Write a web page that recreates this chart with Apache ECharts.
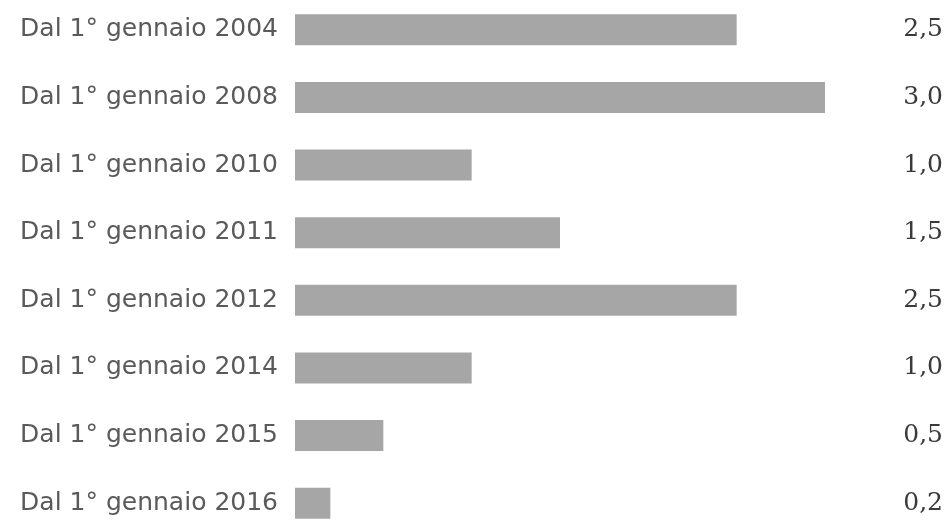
<!DOCTYPE html>
<html>
<head>
<meta charset="utf-8">
<script src="https://cdn.jsdelivr.net/npm/echarts@6/dist/echarts.min.js"></script>
<style>
  html, body { margin: 0; padding: 0; background: #fff; overflow: hidden; }
  /* la prima riga parte un po' sopra il bordo */
  #chart { position: absolute; left: 0; top: -4px; width: 948px; height: 545px; }
</style>
</head>
<body>
<div id="chart"></div>
<script>
// categorie (dall'alto in basso)
var categories = ['Dal 1° gennaio 2004', 'Dal 1° gennaio 2008', 'Dal 1° gennaio 2010', 'Dal 1° gennaio 2011',
                  'Dal 1° gennaio 2012', 'Dal 1° gennaio 2014', 'Dal 1° gennaio 2015', 'Dal 1° gennaio 2016'];
var values = [2.5, 3.0, 1.0, 1.5, 2.5, 1.0, 0.5, 0.2];

// etichette a destra, formato italiano
var valueLabels = values.map(function (v) {
    return v.toFixed(1).replace('.', ',');
});

var chart = echarts.init(document.getElementById('chart'));

var option = {
    backgroundColor: '#fff',
    animation: false,
    grid: { left: 295, right: 123, top: 0, height: 541, containLabel: false },
    xAxis: {
        type: 'value',
        min: 0,
        max: 3,
        show: false
    },
    yAxis: [{
        type: 'category',
        data: categories,
        inverse: true,
        axisLine: { show: false },
        axisTick: { show: false },
        axisLabel: {
            fontFamily: 'DejaVu Sans',
            fontSize: 25,
            color: '#5a5a5a',
            margin: 17
        }
    }, {
        type: 'category',
        data: valueLabels,
        inverse: true,
        position: 'right',
        axisLine: { show: false },
        axisTick: { show: false },
        axisLabel: {
            fontFamily: 'DejaVu Serif',
            fontSize: 25,
            color: '#3a3a3a',
            align: 'right',
            margin: 118
        }
    }],
    series: [{
        type: 'bar',
        data: values,
        barWidth: 31,
        itemStyle: { color: '#a6a6a6' },
        silent: true
    }]
};

chart.setOption(option);
</script>
</body>
</html>
